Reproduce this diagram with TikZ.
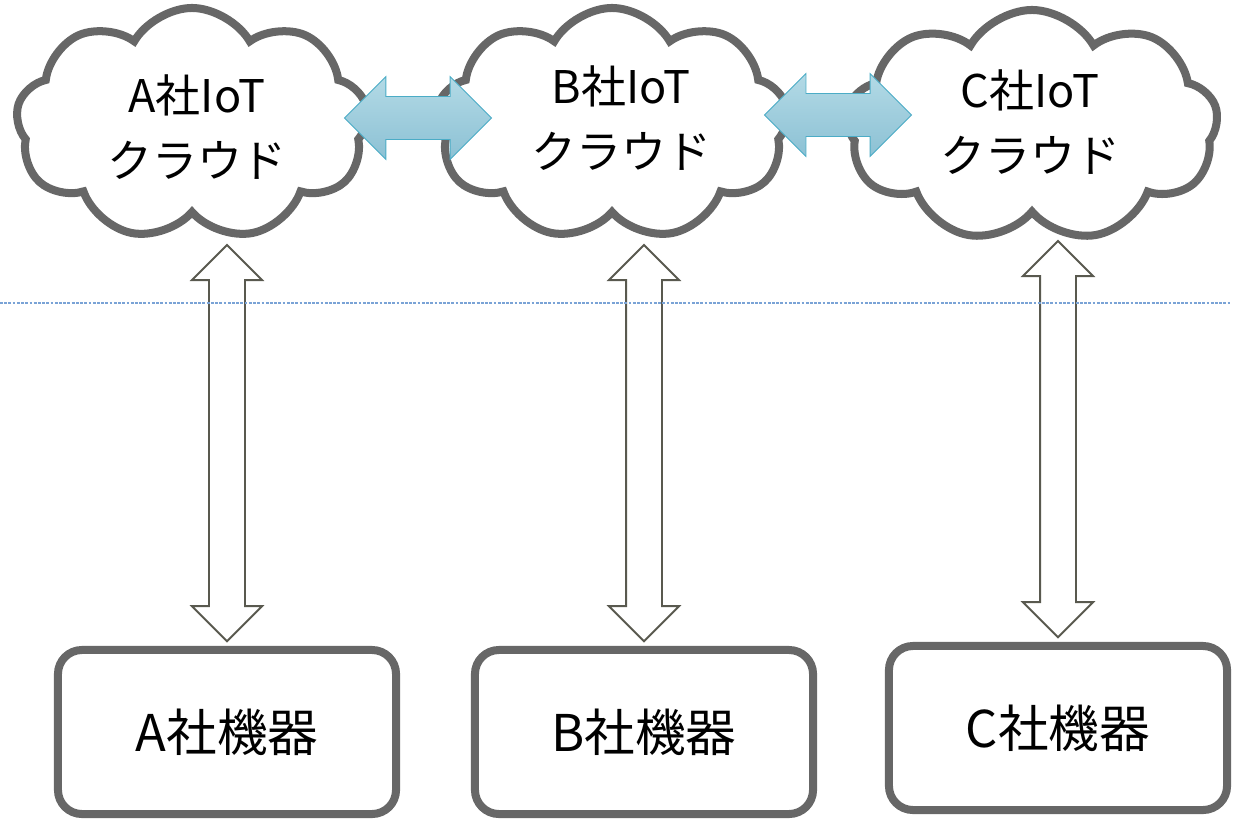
\documentclass[tikz,border=0pt]{standalone}
\usepackage{fontspec}
\setmainfont{Noto Sans CJK JP}
\usetikzlibrary{shapes.symbols,shapes.arrows,calc}
\definecolor{linegray}{HTML}{676767}
\definecolor{arrowgray}{HTML}{59594F}
\definecolor{linkblue}{HTML}{4BACC6}
\definecolor{linktop}{HTML}{B3DAE6}
\definecolor{linkbot}{HTML}{8CC1D4}
\definecolor{dashblue}{HTML}{7AA3D6}

\begin{document}
\begin{tikzpicture}[x=0.025cm,y=-0.025cm,
	iotcloud/.style={cloud, cloud puffs=9, cloud puff arc=120, cloud ignores aspect,
		draw=linegray, line width=5.7pt, fill=white, minimum width=8.8cm, minimum height=5.8cm,
		inner sep=0pt},
	cloudtext/.style={align=center, font=\fontsize{32}{46}\selectfont},
	device/.style={rectangle, rounded corners=0.6cm, draw=linegray, line width=5.7pt,
		minimum width=8.45cm, minimum height=4.1cm, font=\fontsize{36}{40}\selectfont},
	link/.style={double arrow, draw=linkblue, line width=0.6pt, top color=linktop, bottom color=linkbot,
		minimum height=3.675cm, minimum width=2.05cm, double arrow head extend=0.5cm,
		double arrow tip angle=90, inner xsep=0pt, inner ysep=0.525cm},
	updown/.style={double arrow, draw=arrowgray, line width=1.4pt, fill=white, rotate=90,
		minimum height=9.9cm, minimum width=1.7cm, double arrow head extend=0.425cm,
		double arrow tip angle=90, inner xsep=0pt, inner ysep=0.425cm}
	]
	
	\useasboundingbox (0,0) rectangle (1242,820);
	
	%--- IoT cloud ---
	\node[iotcloud] (ca) at (192,124) {};
	\node[iotcloud] (cb) at (612,124) {};
	\node[iotcloud, minimum width=9.3cm] (cc) at (1032,126) {};
	\node[cloudtext] (ta) at (197,127) {A社IoT\\クラウド};
	\node[cloudtext] (tb) at (621,118) {B社IoT\\クラウド};
	\node[cloudtext] (tc) at (1030,122) {C社IoT\\クラウド};
	
	%--- cloud link ---
	\node[link] (lab) at (418,118) {};
	\node[link] (lbc) at (838,115) {};
	
	%--- device ---
	\node[device] (ma) at (227,732) {A社機器};
	\node[device] (mb) at (644,732) {B社機器};
	\node[device] (mc) at (1058,728) {C社機器};
	
	%--- cloud <-> device ---
	\foreach \m/\u in {ma/ua, mb/ub, mc/uc} {
		\node[updown] (\u) at ($(\m.north)+(0,5.07cm)$) {};
	}
	
	%--- border line ---
	\draw[dashblue, line width=0.9pt, dash pattern=on 2pt off 1pt] (0,303) -- (1230,303);
	
\end{tikzpicture}
\end{document}
